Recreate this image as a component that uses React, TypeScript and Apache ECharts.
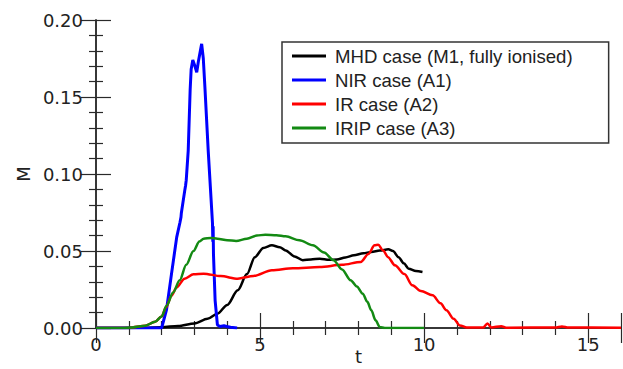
import React, { useEffect, useRef } from "react";
import * as echarts from "echarts";

const seriesNames = ["MHD case (M1, fully ionised)", "NIR case (A1)", "IR case (A2)", "IRIP case (A3)"];
const seriesColors = ["#000000", "#0000ff", "#ff0000", "#138a13"];

const mhd: number[][] = [
  [0, 0], [1, 0], [1.5, 0.0002], [2, 0.0005], [2.5, 0.0013], [3, 0.003], [3.4, 0.006], [3.7, 0.0093],
  [4, 0.015], [4.32, 0.0245], [4.6, 0.035], [4.84, 0.046], [5.1, 0.052], [5.36, 0.0537], [5.6, 0.0525],
  [5.78, 0.0504], [6.05, 0.0465], [6.3, 0.044], [6.55, 0.0445], [6.82, 0.045], [7.1, 0.0443],
  [7.34, 0.0444], [7.6, 0.0458], [7.86, 0.0472], [8.15, 0.0485], [8.39, 0.0494], [8.65, 0.0503],
  [8.91, 0.0511], [9.05, 0.05], [9.22, 0.046], [9.38, 0.042], [9.53, 0.0385], [9.75, 0.037], [9.95, 0.0364],
];

const nir: number[][] = [
  [0, 0], [1, 0], [2, 0], [2.15, 0.012], [2.3, 0.035], [2.46, 0.059], [2.56, 0.0687], [2.59, 0.072],
  [2.6, 0.0745], [2.71, 0.09], [2.73, 0.0925], [2.75, 0.096], [2.81, 0.115], [2.87, 0.155], [2.9, 0.168],
  [2.95, 0.174], [3.0, 0.171], [3.07, 0.166], [3.12, 0.173], [3.22, 0.1845], [3.27, 0.175], [3.32, 0.156],
  [3.42, 0.115], [3.51, 0.0826], [3.55, 0.068], [3.56, 0.056], [3.57, 0.066], [3.58, 0.048], [3.63, 0.018],
  [3.7, 0.002], [3.78, 0.001], [3.9, 0.0015], [3.98, 0.001], [4.1, 0.0005], [4.3, 0],
];

const ir: number[][] = [
  [0, 0], [1, 0], [1.1, 0.0004], [1.5, 0.0015], [1.8, 0.004], [2.0, 0.0075], [2.14, 0.0136], [2.3, 0.021],
  [2.45, 0.0262], [2.7, 0.032], [2.97, 0.0349], [3.28, 0.0353], [3.8, 0.0337], [4.32, 0.032], [4.8, 0.0338],
  [5.36, 0.0375], [6.0, 0.0388], [6.82, 0.0396], [7.5, 0.041], [8.07, 0.0429], [8.3, 0.048], [8.49, 0.0537],
  [8.6, 0.054], [8.75, 0.0504], [8.9, 0.046], [9.11, 0.0407], [9.4, 0.035], [9.64, 0.0277], [9.9, 0.024],
  [10.26, 0.0212], [10.5, 0.016], [10.68, 0.0115], [10.9, 0.006], [11.09, 0.0017], [11.3, 0.0003],
  [11.8, 0.0003], [11.93, 0.003], [12.05, 0.0003], [12.35, 0.0012], [12.5, 0.0002], [14.0, 0.0003],
  [14.2, 0.001], [14.4, 0.0003], [16, 0.0002],
];

const irip: number[][] = [
  [0, 0], [0.8, 0], [1.1, 0.0004], [1.5, 0.0015], [1.8, 0.004], [2.0, 0.0075], [2.15, 0.0145], [2.35, 0.023],
  [2.55, 0.031], [2.75, 0.041], [2.97, 0.05], [3.15, 0.0562], [3.28, 0.058], [3.5, 0.0585], [3.7, 0.058],
  [4.0, 0.057], [4.27, 0.0565], [4.6, 0.058], [4.9, 0.06], [5.16, 0.0606], [5.5, 0.0603], [5.78, 0.0595],
  [6.2, 0.057], [6.61, 0.0537], [6.95, 0.049], [7.24, 0.044], [7.5, 0.038], [7.76, 0.031], [7.95, 0.027],
  [8.13, 0.0223], [8.27, 0.017], [8.39, 0.0115], [8.52, 0.005], [8.65, 0.0006], [8.8, 0], [10, 0],
];

const seriesData = [mhd, nir, ir, irip];

const xMin = 0;
const xMax = 16;
const xInterval = 5;
const yMin = 0;
const yMax = 0.2;
const yInterval = 0.05;

export default function App() {
  const ref = useRef<HTMLDivElement>(null);
  useEffect(() => {
    if (!ref.current) return;
    const chart = echarts.init(ref.current, undefined, { renderer: "svg" });
    const axisColor = "#2a2a2a";
    const labelFont = { fontFamily: "DejaVu Sans", fontSize: 18, color: "#222" };
    const baseX = {
      type: "value" as const,
      min: xMin,
      max: xMax,
      interval: xInterval,
      axisLine: { show: true, lineStyle: { color: axisColor, width: 1.5 } },
      axisTick: { show: true, inside: true, length: 15, lineStyle: { color: axisColor, width: 1.2 } },
      minorTick: { show: true, splitNumber: 5, length: 7, lineStyle: { color: axisColor, width: 1.2 } },
      splitLine: { show: false },
      minorSplitLine: { show: false },
    };
    const baseY = {
      type: "value" as const,
      min: yMin,
      max: yMax,
      interval: yInterval,
      axisLine: { show: true, lineStyle: { color: axisColor, width: 1.5 } },
      axisTick: { show: true, inside: true, length: 15, lineStyle: { color: axisColor, width: 1.2 } },
      minorTick: { show: true, splitNumber: 5, length: 7, lineStyle: { color: axisColor, width: 1.2 } },
      splitLine: { show: false },
      minorSplitLine: { show: false },
    };
    chart.setOption({
      animation: false,
      backgroundColor: "#ffffff",
      grid: { left: 96, right: 2, top: 20, bottom: 41, containLabel: false, outerBoundsMode: "none" },
      legend: {
        orient: "vertical",
        left: 282,
        top: 42,
        icon: "rect",
        itemWidth: 34,
        itemHeight: 3,
        itemGap: 0,
        padding: [2, 36, 3, 10],
        borderColor: "#333",
        borderWidth: 1.5,
        backgroundColor: "#fff",
        textStyle: {
          fontFamily: "Liberation Sans",
          fontSize: 18.6,
          lineHeight: 24,
          color: "#222",
          padding: [0, 0, 0, 4],
        },
        data: seriesNames,
      },
      xAxis: [
        {
          ...baseX,
          position: "bottom",
          name: "t",
          nameLocation: "middle",
          nameGap: 19,
          nameMoveOverlap: false,
          nameTextStyle: { ...labelFont, verticalAlign: "top" },
          axisLabel: { show: true, margin: 7, showMaxLabel: false, ...labelFont },
        },
        {
          ...baseX,
          position: "top",
          axisLabel: { show: false },
        },
      ],
      yAxis: [
        {
          ...baseY,
          position: "left",
          name: "M",
          nameLocation: "middle",
          nameGap: 64,
          nameMoveOverlap: false,
          nameRotate: 90,
          nameTextStyle: { ...labelFont },
          axisLabel: {
            show: true,
            margin: 13,
            ...labelFont,
            formatter: (v: number) => v.toFixed(2),
          },
        },
        {
          ...baseY,
          position: "right",
          axisLabel: { show: false },
        },
      ],
      series: seriesNames.map((name, i) => ({
        name,
        type: "line",
        xAxisIndex: 0,
        yAxisIndex: 0,
        data: seriesData[i],
        showSymbol: false,
        symbol: "none",
        smooth: i === 1 ? false : 0.3,
        smoothMonotone: "x",
        lineStyle: { color: seriesColors[i], width: i === 1 ? 3 : 2.5 },
        itemStyle: { color: seriesColors[i] },
        z: 2 + i,
      })),
    });
    return () => chart.dispose();
  }, []);
  return <div ref={ref} style={{ width: 623, height: 369, position: "absolute", left: 0, top: 0 }} />;
}
